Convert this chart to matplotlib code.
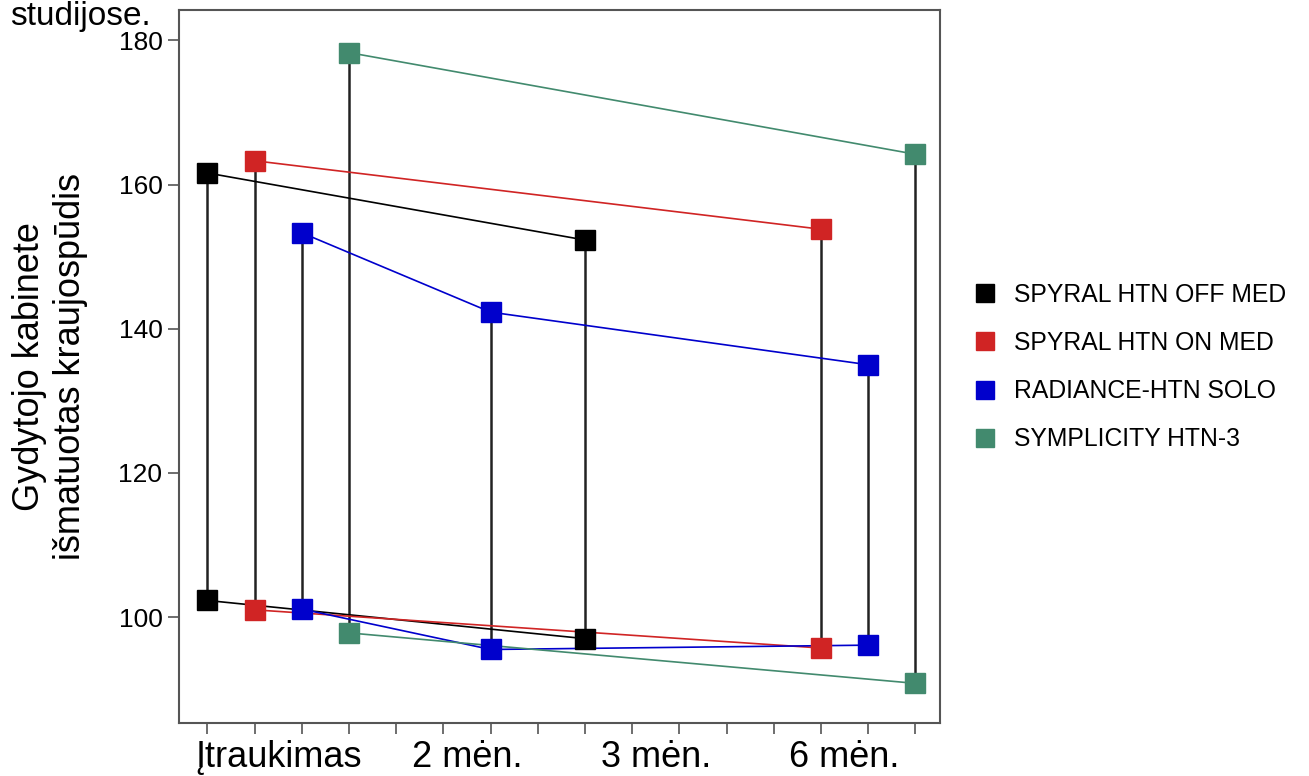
import matplotlib
matplotlib.use('Agg')
import matplotlib.pyplot as plt
from matplotlib.lines import Line2D

plt.rcParams['font.family'] = ['Liberation Sans', 'DejaVu Sans']

# Tyrimai ir spalvos
studijos = ['SPYRAL HTN OFF MED', 'SPYRAL HTN ON MED', 'RADIANCE-HTN SOLO', 'SYMPLICITY HTN-3']
spalvos = ['#000000', '#d02424', '#0000cc', '#428a6e']

# x pozicijos (stulpeliu indeksai) ir kraujospudis: virsutinis (sistolinis) / apatinis (diastolinis)
x_pos = [[0, 8], [1, 13], [2, 6, 14], [3, 15]]
sist = [[161.6, 152.3], [163.3, 153.8], [153.3, 142.3, 135.0], [178.3, 164.2]]
diast = [[102.3, 97.0], [101.0, 95.7], [101.1, 95.5, 96.1], [97.8, 90.8]]

laiko_zymes = ['Įtraukimas', '2 mėn.', '3 mėn.', '6 mėn.']
laiko_pos = [1.5, 5.5, 9.5, 13.5]

fig = plt.figure(figsize=(13.09, 7.76), dpi=100)
ax = fig.add_axes([0.1368, 0.0683, 0.5813, 0.9187])

# vertikalios linijos tarp sistolinio ir diastolinio
for xs, s, d in zip(x_pos, sist, diast):
    for xi, si, di in zip(xs, s, d):
        ax.plot([xi, xi], [di, si], color='#222222', lw=1.8, zorder=1)

# jungiamosios linijos ir zymekliai
for xs, s, d, c in zip(x_pos, sist, diast, spalvos):
    ax.plot(xs, s, color=c, lw=1.2, zorder=2)
    ax.plot(xs, d, color=c, lw=1.2, zorder=2)
    ax.plot(xs, s, 's', color=c, ms=14, zorder=3)
    ax.plot(xs, d, 's', color=c, ms=14, zorder=3)

ax.set_xlim(-0.6, 15.52)
ax.set_ylim(85.3, 184.2)
ax.set_yticks([100, 120, 140, 160, 180])
ax.set_xticks(range(16))
ax.set_xticklabels([])
ax.set_xticks(laiko_pos, minor=True)
ax.set_xticklabels(laiko_zymes, minor=True, fontsize=26)
ax.tick_params(axis='x', which='minor', length=0, pad=12)
ax.tick_params(axis='x', which='major', length=8, width=1.2, color='#555555')
ax.tick_params(axis='y', length=8, width=1.2, color='#555555', labelsize=19, pad=4)

for sp in ax.spines.values():
    sp.set_color('#555555')
    sp.set_linewidth(1.5)

ax.set_ylabel('Gydytojo kabinete\nišmatuotas kraujospūdis', fontsize=26, labelpad=22)

rankenos = [Line2D([], [], marker='s', ls='none', color=c, ms=13) for c in spalvos]
fig.legend(rankenos, studijos, loc='center left', bbox_to_anchor=(0.72, 0.527),
           frameon=False, fontsize=17.8, labelspacing=0.98, handletextpad=0.4,
           handlelength=1.6)

fig.text(0.008, 0.999, 'studijose.', fontsize=24, va='top', ha='left')

fig.savefig('out.png', dpi=100)
